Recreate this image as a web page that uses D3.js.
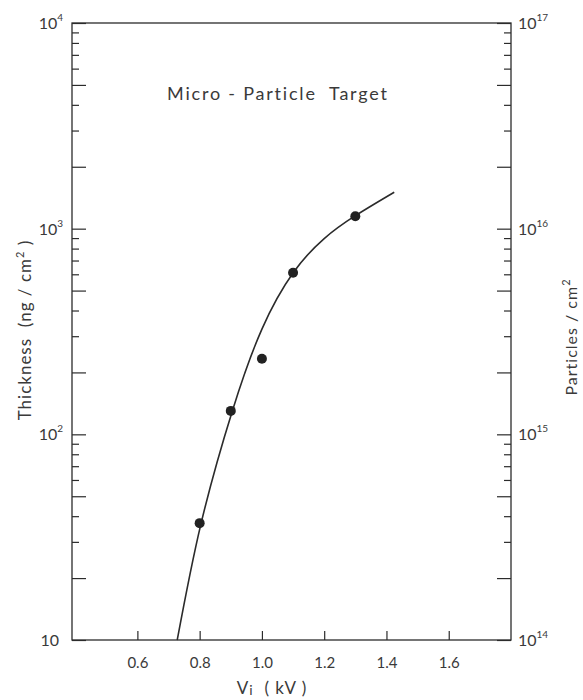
<!DOCTYPE html>
<html>
<head>
<meta charset="utf-8">
<script src="https://cdn.jsdelivr.net/npm/d3@7"></script>
<style>
  body { margin: 0; background: #fff; }
  text { font-family: Lato, "Noto Sans", sans-serif; fill: #3a3a3a; }
</style>
</head>
<body>
<svg id="plot" width="583" height="700"></svg>
<script>
// measured points (Vi in kV, thickness in ng/cm^2)
const voltage = [0.80, 0.90, 1.00, 1.10, 1.30];
const thickness = [37, 130, 233, 610, 1150];

// fitted curve
const curveV = [0.728, 0.804, 0.905, 1.0, 1.101, 1.2, 1.299, 1.425];
const curveT = [10, 36.6, 130, 325, 612, 895, 1153, 1503];

const xTicks = [0.6, 0.8, 1.0, 1.2, 1.4, 1.6];
const leftDecades = [10, 100, 1000, 10000];
const rightDecades = [1e14, 1e15, 1e16, 1e17];

const svg = d3.select('#plot'),
    margin = {top: 23, right: 72, bottom: 60, left: 72},
    width = +svg.attr('width') - margin.left - margin.right,
    height = +svg.attr('height') - margin.top - margin.bottom;

const x = d3.scaleLinear().domain([0.39, 1.8]).range([0, width]),
    y = d3.scaleLog().domain([10, 1e4]).range([height, 0]),
    yR = d3.scaleLog().domain([1e14, 1e17]).range([height, 0]);

const g = svg.append('g')
    .attr('transform', 'translate(' + margin.left + ',' + margin.top + ')');

const ink = '#2b2b2b';

// frame
g.append('rect')
    .attr('width', width)
    .attr('height', height)
    .attr('fill', 'none')
    .attr('stroke', ink)
    .attr('stroke-width', 1.3);

// long ticks at 1, 2, 5 of each decade
function tickLen(v) {
    let m = Math.round(v / Math.pow(10, Math.floor(Math.log10(v) + 1e-9)));
    return (m === 1 || m === 2 || m === 5) ? 14 : 7;
}

let left = g.append('g')
    .call(d3.axisRight(y).tickValues(y.ticks()).tickFormat(''));
left.select('.domain').remove();
left.selectAll('.tick line')
    .attr('x2', d => tickLen(d))
    .attr('stroke', ink)
    .attr('stroke-width', 1.2);

let right = g.append('g')
    .attr('transform', 'translate(' + width + ',0)')
    .call(d3.axisLeft(yR).tickValues(yR.ticks()).tickFormat(''));
right.select('.domain').remove();
right.selectAll('.tick line')
    .attr('x2', d => -tickLen(d))
    .attr('stroke', ink)
    .attr('stroke-width', 1.2);

let bottom = g.append('g')
    .attr('transform', 'translate(0,' + height + ')')
    .call(d3.axisBottom(x).tickValues(xTicks).tickSize(-9).tickPadding(17)
            .tickFormat(d3.format('.1f')));
bottom.select('.domain').remove();
bottom.selectAll('.tick line').attr('stroke', ink).attr('stroke-width', 1.2);
bottom.selectAll('.tick text')
    .attr('fill', '#3a3a3a')
    .attr('font-size', 15)
    .attr('font-family', 'Lato, sans-serif');

// decade labels with superscripts
function power(sel, exp) {
    sel.append('tspan').text('10');
    if (exp !== null) {
        sel.append('tspan')
            .attr('dy', -8)
            .attr('font-size', 10)
            .text(exp);
    }
}

g.selectAll('.lab-left')
    .data(leftDecades)
    .enter()
    .append('text')
    .attr('class', 'lab-left')
    .attr('x', d => d === 10 ? -13 : -9)
    .attr('y', d => y(d) + 6)
    .attr('text-anchor', 'end')
    .attr('font-size', 16)
    .each(function (d) {
        let e = Math.round(Math.log10(d));
        power(d3.select(this), e === 1 ? null : String(e));
    });

g.selectAll('.lab-right')
    .data(rightDecades)
    .enter()
    .append('text')
    .attr('class', 'lab-right')
    .attr('x', 7)
    .attr('y', d => yR(d) + 6)
    .attr('transform', 'translate(' + width + ',0)')
    .attr('font-size', 16)
    .each(function (d) {
        power(d3.select(this), String(Math.round(Math.log10(d))));
    });

// fitted curve
let line = d3.line()
    .x((d, i) => x(curveV[i]))
    .y(d => y(d))
    .curve(d3.curveNatural);

g.append('path')
    .datum(curveT)
    .attr('fill', 'none')
    .attr('stroke', ink)
    .attr('stroke-width', 1.6)
    .attr('d', line);

// measured points
g.selectAll('.point')
    .data(thickness)
    .enter()
    .append('circle')
    .attr('class', 'point')
    .attr('r', 5)
    .attr('cx', (d, i) => x(voltage[i]))
    .attr('cy', d => y(d))
    .attr('fill', '#222');

// title
g.append('text')
    .attr('x', 95)
    .attr('y', 77)
    .attr('font-size', 18)
    .attr('letter-spacing', 1.8)
    .attr('xml:space', 'preserve')
    .text('Micro - Particle  Target');

// axis titles
let xt = svg.append('text')
    .attr('x', 272)
    .attr('y', 694)
    .attr('text-anchor', 'middle')
    .attr('font-size', 17)
    .attr('letter-spacing', 1)
    .attr('xml:space', 'preserve');
xt.append('tspan').text('V');
xt.append('tspan').attr('font-size', 14).attr('dy', 1).text('i');
xt.append('tspan').attr('dy', -1).text('  ( kV )');

let yt = svg.append('text')
    .attr('transform', 'translate(31,330) rotate(-90)')
    .attr('text-anchor', 'middle')
    .attr('font-size', 17)
    .attr('letter-spacing', 1)
    .attr('xml:space', 'preserve');
yt.append('tspan').text('Thickness  (ng / cm');
yt.append('tspan').attr('dy', -7).attr('font-size', 11).text('2');
yt.append('tspan').attr('dy', 7).text(' )');

let yr = svg.append('text')
    .attr('transform', 'translate(577,337) rotate(-90)')
    .attr('text-anchor', 'middle')
    .attr('font-size', 16)
    .attr('letter-spacing', 1)
    .attr('xml:space', 'preserve');
yr.append('tspan').text('Particles / cm');
yr.append('tspan').attr('dy', -7).attr('font-size', 11).text('2');
</script>
</body>
</html>
